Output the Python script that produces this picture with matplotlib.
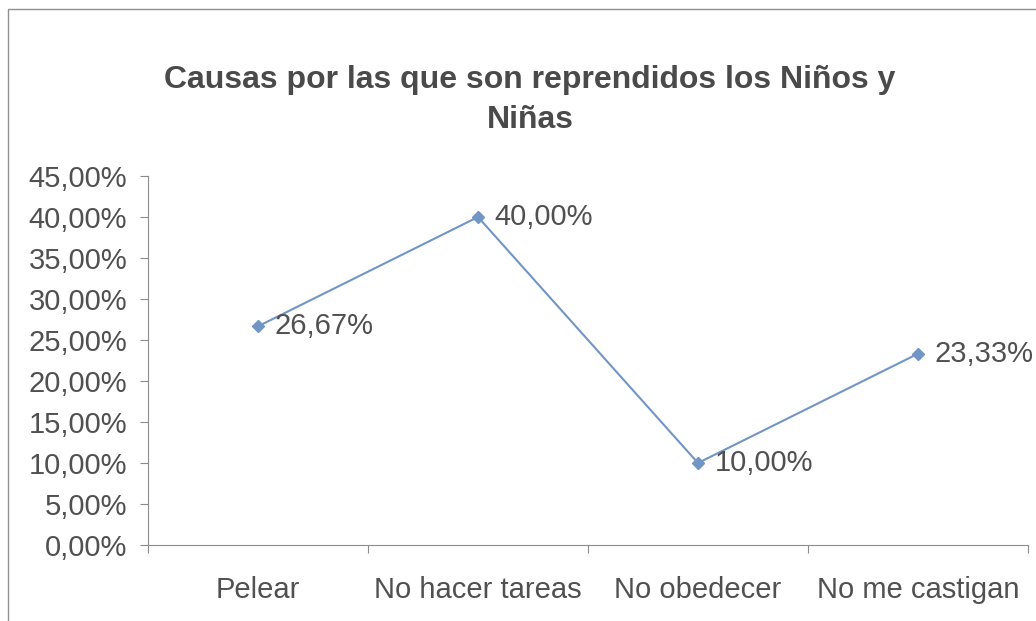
import matplotlib
matplotlib.use("Agg")
import matplotlib.pyplot as plt
from matplotlib.patches import Rectangle
from matplotlib.ticker import FuncFormatter

# Datos del gráfico
causas = ["Pelear", "No hacer tareas", "No obedecer", "No me castigan"]
porcentajes = [0.2667, 0.40, 0.10, 0.2333]
etiquetas = ["26,67%", "40,00%", "10,00%", "23,33%"]

plt.rcParams['font.family'] = ['Liberation Sans', 'DejaVu Sans']
texto = '#505050'
linea = '#7195c5'
eje = '#8c8c8c'

fig = plt.figure(figsize=(10.36, 6.21), dpi=100)
# marco del gráfico (se sale por la derecha y por abajo, como en el escaneo)
fig.patches.append(Rectangle((8/1036, -0.2), 1.2, 1.2 - 9/621, transform=fig.transFigure,
                             fill=False, edgecolor='#909090', linewidth=1.0))

ax = fig.add_axes([148/1036, 76/621, 880/1036, 369/621])
x = list(range(len(causas)))
ax.plot(x, porcentajes, color=linea, linewidth=1.5, marker='D', markersize=6,
        markerfacecolor=linea, markeredgecolor=linea)

for xi, yi, lab in zip(x, porcentajes, etiquetas):
    ax.annotate(lab, (xi, yi), xytext=(12, 0), textcoords='offset points',
                va='center', ha='left', fontsize=21, color=texto)

ax.set_xlim(-0.5, len(causas) - 0.5)
ax.set_ylim(0, 0.45)
ax.set_yticks([i * 0.05 for i in range(10)])
ax.yaxis.set_major_formatter(FuncFormatter(lambda v, p: f"{v*100:.2f}%".replace('.', ',')))

ax.set_xticks([i - 0.5 for i in range(len(causas) + 1)])
ax.set_xticklabels([])
ax.set_xticks(x, minor=True)
ax.set_xticklabels(causas, minor=True)
ax.tick_params(axis='x', which='minor', length=0, pad=22, labelsize=21, labelcolor=texto)
ax.tick_params(axis='x', which='major', length=6, direction='out', color=eje)
ax.tick_params(axis='y', length=6, direction='out', color=eje, pad=9, labelsize=21, labelcolor=texto)

for s in ['top', 'right']:
    ax.spines[s].set_visible(False)
for s in ['left', 'bottom']:
    ax.spines[s].set_color(eje)

fig.text(530/1036, 1 - 100/621, "Causas por las que son reprendidos los Niños y\nNiñas",
         ha='center', va='center', fontsize=23, fontweight='bold', color='#4a4a4a',
         linespacing=1.45)

fig.savefig("out.png", dpi=100)
